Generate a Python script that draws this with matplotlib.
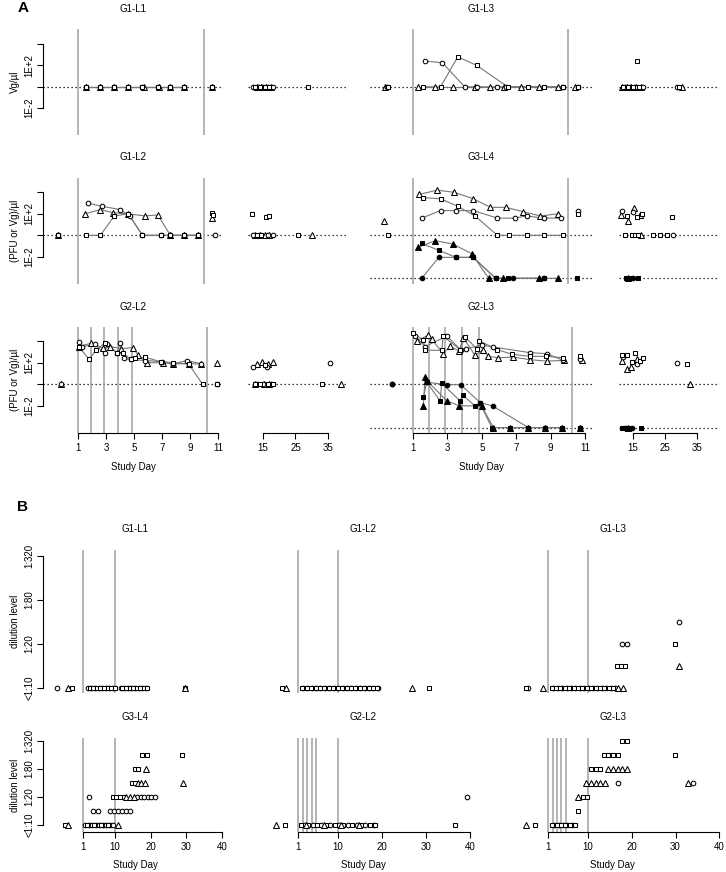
import numpy as np
import matplotlib.pyplot as plt

plt.rcParams['font.family'] = ['Liberation Sans', 'DejaVu Sans']
plt.rcParams['font.size'] = 7

# ---------------------------------------------------------------
# Panel A: day of sample and log10 titre (0 = limit line, -4 = PFU limit)
# ---------------------------------------------------------------
# G1-L1
a_g1l1_circ_d = [1.6, 2.6, 3.6, 4.6, 5.6, 6.7, 7.6, 8.6, 10.6, 12.0, 13.5, 15.0, 16.5, 18.0]
a_g1l1_circ_v = [0, 0, 0, 0, 0, 0, 0, 0, 0, 0, 0, 0, 0, 0]
a_g1l1_sq_d = [1.6, 2.6, 3.6, 4.6, 5.6, 6.7, 7.6, 8.6, 10.6, 12.5, 14.0, 15.5, 17.0, 28.8]
a_g1l1_sq_v = [0, 0, 0, 0, 0, 0, 0, 0, 0, 0, 0, 0, 0, 0]
a_g1l1_tri_d = [1.6, 2.6, 3.6, 4.6, 5.7, 6.8, 7.6, 8.6, 10.6, 13.0, 14.5, 16.0, 17.5]
a_g1l1_tri_v = [0, 0, 0, 0, 0, 0, 0, 0, 0, 0, 0, 0, 0]

# G1-L3
a_g1l3_tri_d = [-0.6, 1.3, 2.3, 3.3, 4.6, 5.5, 6.3, 7.3, 8.3, 9.4, 10.4, 11.5, 13.0, 14.5, 16.0, 17.5, 30.3]
a_g1l3_tri_v = [0, 0, 0, 0, 0, 0, 0, 0, 0, 0, 0, 0, 0, 0, 0, 0, 0]
a_g1l3_sq_d = [-0.45, 1.6, 2.6, 3.6, 4.7, 6.5, 7.7, 8.6, 9.7, 10.6, 12.0, 13.5, 15.0, 16.2, 17.0, 29.5]
a_g1l3_sq_v = [0, 0, 0, 2.8, 2.0, 0, 0, 0, 0, 0, 0, 0, 0, 2.4, 0, 0]
a_g1l3_circ_d = [-0.5, 1.7, 2.7, 4.0, 4.7, 5.9, 6.4, 9.7, 10.6, 12.5, 14.0, 15.5, 18.0, 28.7]
a_g1l3_circ_v = [0, 2.4, 2.25, 0, 0, 0, 0, 0, 0, 0, 0, 0, 0, 0]

# G1-L2
a_g1l2_circ_d = [-0.4, 1.7, 2.7, 4.0, 4.7, 5.6, 6.9, 7.6, 8.6, 9.6, 10.8, 12.0, 14.0, 16.5, 18.0]
a_g1l2_circ_v = [0, 3.0, 2.7, 2.4, 1.8, 0, 0, 0, 0, 0, 0, 0, 0, 0, 0]
a_g1l2_tri_d = [-0.4, 1.5, 2.6, 3.5, 4.6, 5.8, 6.7, 7.6, 8.6, 9.6, 10.6, 12.5, 14.0, 15.5, 17.0, 30.2]
a_g1l2_tri_v = [0, 2.0, 2.4, 2.1, 2.0, 1.8, 1.9, 0, 0, 0, 1.6, 0, 0, 0, 0, 0]
a_g1l2_sq_d = [-0.4, 1.6, 2.6, 3.6, 4.6, 5.6, 6.9, 7.6, 8.6, 9.6, 10.6, 10.65, 11.6, 13.0, 14.5, 15.9, 16.8, 25.8]
a_g1l2_sq_v = [0, 0, 0, 1.8, 2.0, 0, 0, 0, 0, 0, 2.1, 1.85, 2.0, 0, 0, 1.7, 1.8, 0]

# G3-L4 (open = Vg, filled = PFU)
a_g3l4_tri_d = [-0.7, 1.35, 2.4, 3.4, 4.5, 5.5, 6.4, 7.4, 8.4, 9.4, 11.1, 13.3, 15.3, 17.2, 17.4]
a_g3l4_tri_v = [1.3, 3.8, 4.2, 4.0, 3.4, 2.6, 2.6, 2.2, 1.8, 2.0, 1.89, 1.33, 2.57, 1.89, 0]
a_g3l4_sq_d = [-0.45, 1.6, 2.6, 3.6, 4.6, 5.9, 6.6, 7.6, 8.6, 9.7, 10.6, 12.5, 13.0, 14.6, 15.6,
               16.1, 16.7, 17.7, 21.3, 23.4, 25.5, 27.3]
a_g3l4_sq_v = [0, 3.5, 3.4, 2.7, 1.8, 0, 0, 0, 0, 0, 2.0, 0, 1.8, 0, 0, 1.73, 0, 1.98, 0, 0, 0, 1.67]
a_g3l4_circ_d = [1.5, 2.6, 3.5, 4.5, 5.9, 6.9, 7.6, 8.6, 9.6, 10.6, 11.5, 15.1, 27.6]
a_g3l4_circ_v = [1.6, 2.3, 2.3, 2.3, 1.6, 1.6, 1.8, 1.6, 1.6, 2.3, 2.26, 2.2, 0]
a_g3l4_ftri_d = [1.3, 2.3, 3.3, 4.4, 5.4, 6.2, 8.3, 9.4, 13.5]
a_g3l4_ftri_v = [-1.1, -0.5, -0.8, -1.7, -4, -4, -4, -4, -4]
a_g3l4_fsq_d = [1.5, 2.5, 3.5, 4.5, 5.8, 6.5, 8.6, 10.5, 12.8, 14.0, 16.5]
a_g3l4_fsq_v = [-0.75, -1.4, -2.05, -2.05, -4, -4, -4, -4, -4, -4, -4]
a_g3l4_fcirc_d = [1.5, 2.5, 3.5, 4.5, 5.8, 6.8, 8.6, 15.0]
a_g3l4_fcirc_v = [-4, -2.05, -2.05, -2.05, -4, -4, -4, -4]

# G2-L2
a_g2l2_tri_d = [-0.2, 1.07, 1.9, 2.8, 3.3, 4.1, 4.9, 5.3, 5.9, 7.1, 7.8, 8.9, 9.8, 10.9,
                12.5, 13.1, 14.6, 15.2, 16.6, 17.0, 18.2, 38.9]
a_g2l2_tri_v = [0, 3.5, 3.8, 3.35, 3.5, 3.3, 3.4, 2.7, 2.0, 2.0, 1.9, 1.9, 1.9, 2.0,
                0, 1.9, 2.05, 0, 1.9, 0, 2.05, 0]
a_g2l2_circ_d = [-0.2, 1.07, 1.3, 2.2, 2.9, 3.1, 3.8, 4.0, 4.3, 4.8, 5.8, 7.0, 7.8, 8.8, 9.8,
                 10.9, 12.0, 13.0, 15.0, 16.1, 17.5, 35.8]
a_g2l2_circ_v = [0, 3.9, 3.5, 3.7, 2.9, 3.7, 2.9, 3.8, 2.4, 2.3, 2.2, 2.1, 1.9, 2.2, 1.9,
                 0, 1.65, 0, 0, 1.65, 0, 2.0]
a_g2l2_sq_d = [1.07, 1.8, 2.3, 2.9, 3.8, 4.2, 4.8, 5.1, 5.8, 6.9, 7.8, 8.9, 9.9, 10.9,
               12.5, 14.0, 15.6, 16.5, 18.0, 33.1]
a_g2l2_sq_v = [3.45, 2.3, 3.2, 3.8, 2.9, 2.9, 2.3, 2.4, 2.5, 2.1, 2.0, 1.9, 0, 0,
               0, 0, 1.75, 0, 0, 0]

# G2-L3 (open = Vg, filled = PFU)
a_g2l3_circ_d = [-0.2, 1.12, 1.7, 2.96, 3.77, 4.06, 4.99, 5.63, 7.8, 8.77, 9.74, 10.71, 12.0, 16.1, 28.9]
a_g2l3_circ_v = [0, 4.46, 3.5, 4.46, 3.21, 3.3, 3.62, 3.46, 2.93, 2.84, 2.21, 2.37, 2.51, 1.9, 1.99]
a_g2l3_sq_d = [1.02, 1.6, 1.7, 2.67, 2.75, 3.73, 4.02, 4.7, 4.85, 5.9, 6.74, 7.8, 8.73, 9.74, 10.71,
               11.5, 13.0, 14.6, 15.6, 17.2, 18.0, 32.0]
a_g2l3_sq_v = [4.71, 4.1, 3.15, 3.15, 4.46, 3.21, 4.39, 3.3, 4.02, 3.21, 2.78, 2.59, 2.59, 2.46, 2.59,
               2.67, 2.76, 2.05, 2.9, 2.2, 2.45, 1.9]
a_g2l3_tri_d = [1.21, 1.89, 2.09, 2.76, 3.15, 3.69, 3.92, 4.6, 5.09, 5.38, 5.96, 6.83, 7.8, 8.77, 9.78, 10.8,
                11.5, 13.0, 14.3, 16.1, 32.8]
a_g2l3_tri_v = [4.02, 4.55, 4.15, 2.84, 3.52, 3.08, 4.33, 2.68, 3.21, 2.59, 2.46, 2.52, 2.28, 2.15, 2.21, 2.21,
                2.14, 1.43, 1.65, 2.36, 0]
a_g2l3_ftri_d = [1.6, 1.7, 1.8, 2.96, 3.69, 4.99, 5.67, 6.64, 7.7, 8.67, 9.64, 10.71, 13.5]
a_g2l3_ftri_v = [-1.99, 0.65, 0.35, -1.52, -1.99, -1.99, -4, -4, -4, -4, -4, -4, -4]
a_g2l3_fsq_d = [1.6, 1.8, 2.57, 2.67, 3.73, 3.89, 4.6, 4.9, 5.57, 6.64, 7.7, 8.67, 9.64, 10.71,
                11.5, 13.0, 14.0, 17.5]
a_g2l3_fsq_v = [-1.21, 0.19, -1.52, 0.09, -1.52, -0.99, -2.0, -1.77, -4, -4, -4, -4, -4, -4,
                -4, -4, -4, -4]
a_g2l3_fcirc_d = [-0.2, 1.8, 2.99, 3.77, 4.9, 5.63, 7.7, 8.67, 9.64, 10.71, 12.5, 14.6]
a_g2l3_fcirc_v = [0, 0.19, -0.03, -0.03, -1.68, -2.0, -4, -4, -4, -4, -4, -4]

a_dose_short = [1, 10]
a_dose_long = [1, 1.9, 2.85, 3.85, 4.85, 10.25]

# ---------------------------------------------------------------
# Panel B: days per dilution level (0 = <1:10, 1 = 1:10, 2 = 1:20 ... 6 = 1:320)
# ---------------------------------------------------------------
b_g1l1_circ = {0: [-6.3, 2.4, 3.4, 4.4, 5.4, 6.4, 7.4, 8.4, 9.4, 11.6, 12.6, 13.6, 14.6, 15.6, 16.6, 17.6, 18.6]}
b_g1l1_sq = {0: [-2.2, 2.9, 3.9, 4.9, 5.9, 6.9, 7.9, 8.9, 9.9, 12.1, 13.1, 14.1, 15.1, 16.1, 17.1, 18.1, 19.1, 29.7]}
b_g1l1_tri = {0: [-3.1, 29.5]}

b_g1l2_circ = {0: [2.0, 3.0, 4.0, 5.0, 6.0, 7.0, 8.0, 9.0, 10.0, 11.0, 12.0, 13.0, 14.0, 15.0, 16.0, 17.0, 18.0, 19.0]}
b_g1l2_sq = {0: [-2.8, 1.9, 2.9, 3.9, 4.9, 5.9, 6.9, 7.9, 8.9, 9.9, 10.9, 11.9, 12.9, 13.9, 14.9, 15.9, 16.9,
                 17.9, 18.9, 30.7]}
b_g1l2_tri = {0: [-1.9, 26.7]}

b_g1l3_circ = {0: [-3.6, 2.2, 3.2, 4.2, 5.2, 6.2, 7.2, 8.2, 9.2, 10.2, 11.2, 12.2, 13.2, 14.2, 15.2, 16.2],
               2: [17.9, 18.9], 3: [30.8]}
b_g1l3_sq = {0: [-4.0, 1.8, 2.8, 3.8, 4.8, 5.8, 6.8, 7.8, 8.8, 9.8, 10.8, 11.8, 12.8, 13.8, 14.8, 15.8],
             1: [16.7, 17.6, 18.5], 2: [29.9]}
b_g1l3_tri = {0: [-0.1, 16.9, 18.0], 1: [30.8]}

b_g3l4_circ = {0: [1.6, 2.6, 3.6, 4.6, 5.6, 6.6, 7.6, 8.6, 9.4],
               1: [3.8, 5.2, 8.6, 9.7, 10.8, 11.9, 13.0, 14.1],
               2: [2.7, 16.2, 17.2, 18.2, 19.2, 20.2, 21.2]}
b_g3l4_sq = {0: [-4.0, 2.1, 4.1, 6.1, 8.1], 2: [9.4, 10.4, 11.4, 12.4],
             3: [14.7, 15.5], 4: [15.6, 16.5], 5: [17.6, 18.9, 28.8]}
b_g3l4_tri = {0: [-3.2, 10.8], 2: [13.2, 14.2, 15.2], 3: [16.4, 17.4, 18.4, 29.0], 4: [18.8]}

b_g2l2_circ = {0: [2.2, 4.2, 6.2, 8.2, 10.2, 12.2, 14.2, 16.2, 18.2], 2: [39.3]}
b_g2l2_sq = {0: [-2.0, 1.6, 3.2, 5.2, 7.2, 9.2, 11.2, 13.2, 15.2, 17.2, 18.3, 36.4]}
b_g2l2_tri = {0: [-4.0, 2.7, 6.7, 10.7, 14.7]}

b_g2l3_circ = {0: [2.4, 3.4, 4.4, 5.4, 6.4], 3: [16.9, 33.9]}
b_g2l3_sq = {0: [-2.0, 1.9, 2.9, 3.9, 4.9, 5.9, 7.0], 1: [7.8], 2: [8.9, 9.9], 4: [10.8, 11.8, 12.9],
             5: [13.7, 14.7, 15.8, 16.9, 29.9], 6: [17.8, 19.0]}
b_g2l3_tri = {0: [-4.0], 2: [7.8], 3: [9.6, 10.7, 11.8, 12.9, 14.0, 32.8], 4: [14.6, 15.7, 16.8, 17.9, 19.0]}

b_dose_short = [1, 10]
b_dose_long = [1, 2, 3, 4, 5, 10]
b_tick_labels = ['<1:10', '1:20', '1:80', '1:320']

# ---------------------------------------------------------------
W, H = 726, 872
fig = plt.figure(figsize=(W / 100, H / 100), dpi=100)

MARK = {'c': 'o', 's': 's', 't': '^'}
SIZE = {'c': 3.3, 's': 3.3, 't': 3.9}
LINE_GREY = '#777777'
DOSE_GREY = '#a8a8a8'
DOT = (0, (1, 2.2))


def px_axes(x0, y0, x1, y1):
    ax = fig.add_axes([x0 / W, 1 - y1 / H, (x1 - x0) / W, (y1 - y0) / H])
    for s in ax.spines.values():
        s.set_visible(False)
    ax.set_xticks([])
    ax.set_yticks([])
    ax.patch.set_alpha(0)
    return ax


def draw_a(ax_m, ax_l, days, vals, mk, filled=False):
    d = np.asarray(days, float)
    v = np.asarray(vals, float)
    conn = (d >= 1) & (d <= 10)
    ax_m.plot(d[conn], v[conn], color=LINE_GREY, lw=0.8, zorder=2)
    fc = 'black' if filled else 'white'
    main = d < 11
    for ax, sel in ((ax_m, main), (ax_l, ~main)):
        ax.plot(d[sel], v[sel], ls='none', marker=MARK[mk], ms=SIZE[mk], mfc=fc,
                mec='black', mew=0.75, zorder=3, clip_on=False)


A_COLS = [((43, 223), (248.4, 348)), ((370, 592), (618.6, 716.8))]
A_ROWS = [(29.5, 135), (177.8, 283.7), (326.5, 433)]
A_TITLE_Y = [9, 157, 307]


def a_panel(col, row, title, series, dose, lower=False, ylab=None, xaxis=False):
    (mx0, mx1), (lx0, lx1) = A_COLS[col]
    y0, y1 = A_ROWS[row]
    ax_m = px_axes(mx0, y0, mx1, y1)
    ax_l = px_axes(lx0, y0, lx1, y1)
    ax_m.set_xlim(-1.5, 11.36 if col == 0 else 11.4)
    ax_l.set_xlim(10.5, 41.2)
    for ax in (ax_m, ax_l):
        ax.set_ylim(-4.5, 5.35)
        ax.axhline(0, color='black', lw=0.9, ls=DOT, zorder=1)
        if lower:
            ax.axhline(-4, color='black', lw=0.9, ls=DOT, zorder=1)
    for d in dose:
        ax_m.axvline(d, color=DOSE_GREY, lw=1.2, zorder=1)
    for days, vals, mk, filled in series:
        draw_a(ax_m, ax_l, days, vals, mk, filled)
    fig.text((mx0 + mx1) / 2 / W, 1 - A_TITLE_Y[row] / H, title, ha='center', va='center', fontsize=7)
    if ylab is not None:
        ax_m.spines['left'].set_visible(True)
        ax_m.spines['left'].set_bounds(-2, 4)
        ax_m.spines['left'].set_linewidth(0.8)
        ax_m.set_yticks([-2, 0, 2, 4])
        ax_m.set_yticklabels(['1E-2', '', '1E+2', ''], rotation=90, va='center')
        ax_m.tick_params(axis='y', length=4, width=0.8, pad=2, labelsize=7)
        fig.text(15 / W, 1 - (y0 + y1) / 2 / H, ylab, rotation=90, ha='center', va='center', fontsize=7)
    if xaxis:
        for ax, lo, hi, ticks in ((ax_m, 1, 11, [1, 3, 5, 7, 9, 11]), (ax_l, 15, 35, [15, 25, 35])):
            ax.spines['bottom'].set_visible(True)
            ax.spines['bottom'].set_bounds(lo, hi)
            ax.spines['bottom'].set_linewidth(0.8)
            ax.set_xticks(ticks)
            ax.tick_params(axis='x', length=4, width=0.8, pad=3, labelsize=7)
        fig.text((mx0 + mx1) / 2 / W, 1 - 467 / H, 'Study Day', ha='center', va='center', fontsize=7)


a_panel(0, 0, 'G1-L1', [(a_g1l1_tri_d, a_g1l1_tri_v, 't', False),
                        (a_g1l1_circ_d, a_g1l1_circ_v, 'c', False),
                        (a_g1l1_sq_d, a_g1l1_sq_v, 's', False)],
        a_dose_short, ylab='Vg/\u00b5l')
a_panel(1, 0, 'G1-L3', [(a_g1l3_tri_d, a_g1l3_tri_v, 't', False),
                        (a_g1l3_circ_d, a_g1l3_circ_v, 'c', False),
                        (a_g1l3_sq_d, a_g1l3_sq_v, 's', False)],
        a_dose_short)
a_panel(0, 1, 'G1-L2', [(a_g1l2_tri_d, a_g1l2_tri_v, 't', False),
                        (a_g1l2_circ_d, a_g1l2_circ_v, 'c', False),
                        (a_g1l2_sq_d, a_g1l2_sq_v, 's', False)],
        a_dose_short, ylab='(PFU or Vg)/\u00b5l')
a_panel(1, 1, 'G3-L4', [(a_g3l4_tri_d, a_g3l4_tri_v, 't', False),
                        (a_g3l4_circ_d, a_g3l4_circ_v, 'c', False),
                        (a_g3l4_sq_d, a_g3l4_sq_v, 's', False),
                        (a_g3l4_ftri_d, a_g3l4_ftri_v, 't', True),
                        (a_g3l4_fcirc_d, a_g3l4_fcirc_v, 'c', True),
                        (a_g3l4_fsq_d, a_g3l4_fsq_v, 's', True)],
        a_dose_short, lower=True)
a_panel(0, 2, 'G2-L2', [(a_g2l2_tri_d, a_g2l2_tri_v, 't', False),
                        (a_g2l2_circ_d, a_g2l2_circ_v, 'c', False),
                        (a_g2l2_sq_d, a_g2l2_sq_v, 's', False)],
        a_dose_long, ylab='(PFU or Vg)/\u00b5l', xaxis=True)
a_panel(1, 2, 'G2-L3', [(a_g2l3_tri_d, a_g2l3_tri_v, 't', False),
                        (a_g2l3_circ_d, a_g2l3_circ_v, 'c', False),
                        (a_g2l3_sq_d, a_g2l3_sq_v, 's', False),
                        (a_g2l3_ftri_d, a_g2l3_ftri_v, 't', True),
                        (a_g2l3_fcirc_d, a_g2l3_fcirc_v, 'c', True),
                        (a_g2l3_fsq_d, a_g2l3_fsq_v, 's', True)],
        a_dose_long, lower=True, xaxis=True)

# ---------------------------------------------------------------
B_COLS = [(43, 228), (249, 478), (499, 726)]
B_ROWS = [(550, 693), (738, 832)]
B_YLIM = [(-0.227, 6.27), (-0.5, 6.21)]
B_TITLE_Y = [529, 717]


def b_panel(col, row, title, series, dose):
    x0, x1 = B_COLS[col]
    y0, y1 = B_ROWS[row]
    ax = px_axes(x0, y0, x1, y1)
    ax.set_xlim(-10.2, 41.7 if col < 2 else 41.5)
    ax.set_ylim(*B_YLIM[row])
    for d in dose:
        ax.axvline(d, color=DOSE_GREY, lw=1.2, zorder=1)
    for levels, mk in series:
        for lv, days in levels.items():
            ax.plot(days, [lv] * len(days), ls='none', marker=MARK[mk], ms=SIZE[mk],
                    mfc='white', mec='black', mew=0.75, zorder=3, clip_on=False)
    fig.text((x0 + x1) / 2 / W, 1 - B_TITLE_Y[row] / H, title, ha='center', va='center', fontsize=7)
    if col == 0:
        ax.spines['left'].set_visible(True)
        ax.spines['left'].set_bounds(0, 6)
        ax.spines['left'].set_linewidth(0.8)
        ax.set_yticks([0, 2, 4, 6])
        ax.set_yticklabels(b_tick_labels, rotation=90, va='center')
        ax.tick_params(axis='y', length=4, width=0.8, pad=2, labelsize=7)
        fig.text(15 / W, 1 - (y0 + y1) / 2 / H, 'dilution level', rotation=90,
                 ha='center', va='center', fontsize=7)
    if row == 1:
        ax.spines['bottom'].set_visible(True)
        ax.spines['bottom'].set_bounds(1, 40)
        ax.spines['bottom'].set_linewidth(0.8)
        ax.set_xticks([1, 10, 20, 30, 40])
        ax.tick_params(axis='x', length=4, width=0.8, pad=3, labelsize=7)
        fig.text((x0 + x1) / 2 / W, 1 - 865 / H, 'Study Day', ha='center', va='center', fontsize=7)


b_panel(0, 0, 'G1-L1', [(b_g1l1_circ, 'c'), (b_g1l1_sq, 's'), (b_g1l1_tri, 't')], b_dose_short)
b_panel(1, 0, 'G1-L2', [(b_g1l2_circ, 'c'), (b_g1l2_sq, 's'), (b_g1l2_tri, 't')], b_dose_short)
b_panel(2, 0, 'G1-L3', [(b_g1l3_circ, 'c'), (b_g1l3_sq, 's'), (b_g1l3_tri, 't')], b_dose_short)
b_panel(0, 1, 'G3-L4', [(b_g3l4_circ, 'c'), (b_g3l4_sq, 's'), (b_g3l4_tri, 't')], b_dose_short)
b_panel(1, 1, 'G2-L2', [(b_g2l2_circ, 'c'), (b_g2l2_sq, 's'), (b_g2l2_tri, 't')], b_dose_long)
b_panel(2, 1, 'G2-L3', [(b_g2l3_circ, 'c'), (b_g2l3_sq, 's'), (b_g2l3_tri, 't')], b_dose_long)

fig.text(23 / W, 1 - 8 / H, 'A', fontsize=11, fontweight='bold', ha='center', va='center')
fig.text(23 / W, 1 - 507 / H, 'B', fontsize=11, fontweight='bold', ha='center', va='center')

fig.savefig('out.png', dpi=100)
